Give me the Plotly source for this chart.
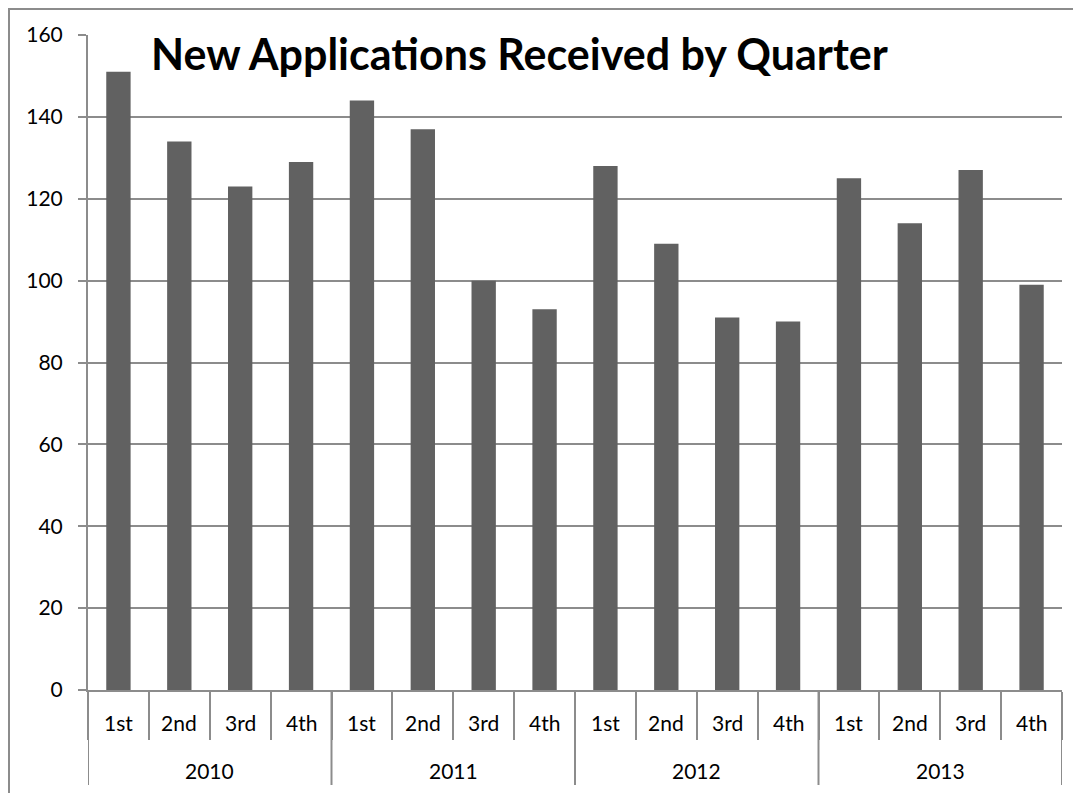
import plotly.graph_objects as go

year_names = ["2010", "2011", "2012", "2013"]
quarter_names = ["1st", "2nd", "3rd", "4th"]
years = [y for y in year_names for _ in quarter_names]
quarters = quarter_names * len(year_names)
values = [151, 134, 123, 129, 144, 137, 100, 93, 128, 109, 91, 90, 125, 114, 127, 99]
title_text = "New Applications Received by Quarter"

FONT = "Lato"
GRID = "#8c8c8c"
PLOT_W = 974.0
PLOT_H = 655.0
L, T = 80, 27

fig = go.Figure()
fig.add_trace(go.Bar(x=[years, quarters], y=values,
                     marker=dict(color="#616161", line=dict(width=0)),
                     showlegend=False, hoverinfo="x+y"))

fig.update_layout(
    width=1073, height=785,
    margin=dict(l=L, r=19, t=T, b=103),
    paper_bgcolor="white", plot_bgcolor="white",
    bargap=0.6,
    font=dict(family=FONT, size=21, color="black"),
)
fig.update_xaxes(
    type="multicategory", automargin=False,
    showline=True, linecolor=GRID, linewidth=2,
    ticks="outside", tickson="boundaries", ticklen=48, tickcolor=GRID, tickwidth=2,
    showticklabels=False, showdividers=False,
    showgrid=False, range=[-0.5, len(values) - 0.5],
)
fig.update_yaxes(
    automargin=False,
    range=[0, 160], dtick=20,
    showline=True, linecolor=GRID, linewidth=2,
    showgrid=True, gridcolor=GRID, gridwidth=2,
    ticks="outside", ticklen=8, tickcolor=GRID, tickwidth=2,
    tickfont=dict(family=FONT, size=21),
    ticklabelstandoff=11,
    zeroline=False,
)

# quarter labels (first level)
for i, q in enumerate(quarters):
    fig.add_annotation(x=i, y=-32 / PLOT_H, xref="x", yref="paper",
                       text=q, showarrow=False, yanchor="middle",
                       font=dict(family=FONT, size=21, color="black"))
# year labels (second level) and year dividers
for k, yname in enumerate(year_names):
    n = len(quarter_names)
    fig.add_annotation(x=k * n + (n - 1) / 2, y=-80 / PLOT_H, xref="x", yref="paper",
                       text=yname, showarrow=False, yanchor="middle",
                       font=dict(family=FONT, size=21, color="black"))
for k in range(len(year_names) + 1):
    xb = k * len(quarter_names) - 0.5
    fig.add_shape(type="line", xref="x", yref="paper", x0=xb, x1=xb,
                  y0=0, y1=-95 / PLOT_H, line=dict(color=GRID, width=2))

fig.add_annotation(
    x=(148 - 88) / PLOT_W, y=(690 - 54) / PLOT_H, xref="paper", yref="paper",
    xanchor="left", yanchor="middle",
    text="<b>" + title_text + "</b>", showarrow=False, borderpad=2,
    font=dict(family=FONT, size=43, color="black"), bgcolor="white",
)
# outer chart-area frame
fig.add_shape(type="rect", xref="paper", yref="paper",
              x0=-(L - 1) / PLOT_W, x1=1.1, y0=-0.3, y1=1 + (T - 1) / PLOT_H,
              line=dict(color=GRID, width=2), fillcolor="rgba(0,0,0,0)", layer="below")

fig.write_html("out.html")
